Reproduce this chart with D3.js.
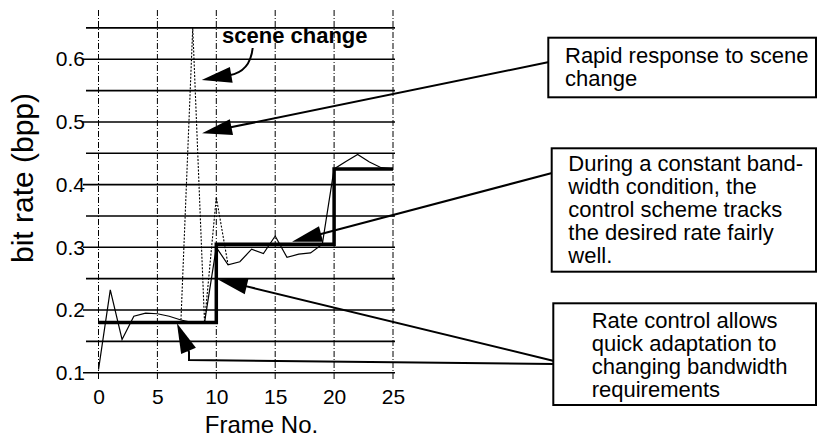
<!DOCTYPE html>
<html lang='en'>
  <head>
    <style type='text/css'>
      body {margin: 0; background-color: #fff;}
      #chart {width: 817px; height: 437px;}
      text {font-family: "Liberation Sans", Arial, Helvetica, sans-serif; fill: #000;}
    </style>
  </head>
  <body>
    <div id='chart'><svg width='817' height='437'></svg></div>

    <script src='https://d3js.org/d3.v7.min.js'></script>
    <script type='text/javascript'>
      // frame numbers and measured bit rates
      var frames      = [0, 1, 2, 3, 4, 5, 6, 7, 8, 9, 10, 11, 12, 13, 14, 15, 16, 17, 18, 19, 20, 21, 22, 23, 24, 25];
      var actualRate  = [0.105, 0.232, 0.153, 0.19, 0.195, 0.194, 0.19, 0.184, 0.18, 0.18, 0.30, 0.272, 0.277,
                         0.297, 0.29, 0.318, 0.284, 0.289, 0.291, 0.305, 0.425, 0.437, 0.448, 0.436, 0.427, 0.425];
      // scene change spike (dotted trace)
      var sceneFrames = [7, 8, 9, 10, 11];
      var sceneRate   = [0.184, 0.65, 0.18, 0.38, 0.272];
      // desired (target) rate, stepwise
      var targetFrames = [0, 10, 20, 25];
      var targetRate   = [0.18, 0.305, 0.425, 0.425];

      var xTicks = [0, 5, 10, 15, 20, 25];
      var yTicks = [0.1, 0.2, 0.3, 0.4, 0.5, 0.6];
      var yGrid  = [0.1, 0.15, 0.2, 0.25, 0.3, 0.35, 0.4, 0.45, 0.5, 0.55, 0.6, 0.65];

      var svg = d3.select("#chart svg");

      var x = d3.scaleLinear().domain([0, 25]).range([98.5, 393]);
      var y = d3.scaleLinear().domain([0.1, 0.65]).range([372.7, 27.9]);

      // grid: solid horizontals, dashed verticals
      svg.append("g").selectAll("line").data(yGrid).enter().append("line")
        .attr("x1", function(d) { return yTicks.indexOf(d) >= 0 ? 83 : 86; })
        .attr("x2", 395)
        .attr("y1", function(d) { return y(d); })
        .attr("y2", function(d) { return y(d); })
        .style("stroke", "#000").style("stroke-width", 1.6);

      svg.append("g").selectAll("line").data(xTicks).enter().append("line")
        .attr("x1", function(d) { return x(d); })
        .attr("x2", function(d) { return x(d); })
        .attr("y1", 10).attr("y2", 381)
        .style("stroke", "#000").style("stroke-width", 1)
        .style("stroke-dasharray", "6,2,1,2");

      // axes (labels only)
      var yAxis = svg.append("g").attr("transform", "translate(86,0)")
        .call(d3.axisLeft(y).tickValues(yTicks).tickSize(0).tickPadding(1).tickFormat(d3.format(".1f")));
      var xAxis = svg.append("g").attr("transform", "translate(0,385)")
        .call(d3.axisBottom(x).tickValues(xTicks).tickSize(0).tickPadding(4));
      [yAxis, xAxis].forEach(function(a) {
        a.select(".domain").remove();
        a.attr("font-family", null).attr("font-size", null);
        a.selectAll("text").style("font-size", "21px");
      });

      svg.append("text").attr("x", 261.5).attr("y", 433)
        .style("text-anchor", "middle").style("font-size", "24px").text("Frame No.");
      svg.append("text").attr("transform", "translate(33,178) rotate(-90)")
        .style("text-anchor", "middle").style("font-size", "30px").text("bit rate (bpp)");

      // data traces
      var line = d3.line()
        .x(function(d) { return x(d[0]); })
        .y(function(d) { return y(d[1]); });

      svg.append("path").datum(d3.zip(sceneFrames, sceneRate))
        .attr("d", line)
        .style("fill", "none").style("stroke", "#000").style("stroke-width", 1.1)
        .style("stroke-dasharray", "2,1.5");

      svg.append("path").datum(d3.zip(frames, actualRate))
        .attr("d", line)
        .style("fill", "none").style("stroke", "#000").style("stroke-width", 1.2);

      svg.append("path").datum(d3.zip(targetFrames, targetRate))
        .attr("d", line.curve(d3.curveStepAfter))
        .style("fill", "none").style("stroke", "#000").style("stroke-width", 3.5);

      // annotations
      function arrowHead(from, tip) {
        var dx = tip[0] - from[0], dy = tip[1] - from[1];
        var len = Math.sqrt(dx * dx + dy * dy), ux = dx / len, uy = dy / len;
        var bx = tip[0] - ux * 30, by = tip[1] - uy * 30;
        svg.append("path")
          .attr("d", "M" + tip + "L" + [bx - uy * 8, by + ux * 8] + "L" + [bx + uy * 8, by - ux * 8] + "Z")
          .style("fill", "#000");
        return [bx + ux * 2, by + uy * 2];
      }
      function pointer(pts, tip) {
        var end = arrowHead(pts[pts.length - 1], tip);
        svg.append("path").attr("d", d3.line()(pts.concat([end])))
          .style("fill", "none").style("stroke", "#000").style("stroke-width", 2);
      }

      // scene change: curved pointer
      var sceneTip = [x(8.76), y(0.567)];
      var sceneBase = arrowHead([244, 72.6], sceneTip);
      svg.append("path").attr("d", "M252.7,48Q250,72 " + sceneBase)
        .style("fill", "none").style("stroke", "#000").style("stroke-width", 2);
      svg.append("text").attr("x", 222).attr("y", 43)
        .style("font-size", "22px").style("font-weight", "bold").text("scene change");

      pointer([[549, 62]], [x(8.79), y(0.482)]);
      pointer([[552, 173]], [x(16.43), y(0.309)]);
      pointer([[554, 361]], [x(10.1), y(0.249)]);
      pointer([[554, 364], [189, 360], [189, 352]], [x(6.66), y(0.179)]);

      var boxes = [
        {x: 548.3, y: 37.7, h: 59.6, tx: 565, ty: 63.3,
         lines: ["Rapid response to scene", "change"]},
        {x: 551.7, y: 148.3, h: 123.4, tx: 568.3, ty: 171,
         lines: ["During a constant band-", "width condition, the", "control scheme tracks",
                 "the desired rate fairly", "well."]},
        {x: 553.3, y: 303.3, h: 101.7, tx: 591.7, ty: 328,
         lines: ["Rate control allows", "quick adaptation to", "changing bandwidth", "requirements"]}
      ];
      boxes.forEach(function(b) {
        svg.append("rect").attr("x", b.x).attr("y", b.y).attr("width", 816 - b.x).attr("height", b.h)
          .style("fill", "#fff").style("stroke", "#000").style("stroke-width", 2);
        svg.append("g").selectAll("text").data(b.lines).enter().append("text")
          .attr("x", b.tx)
          .attr("y", function(d, i) { return b.ty + i * 23; })
          .style("font-size", "22px")
          .text(function(d) { return d; });
      });
    </script>
  </body>
</html>
